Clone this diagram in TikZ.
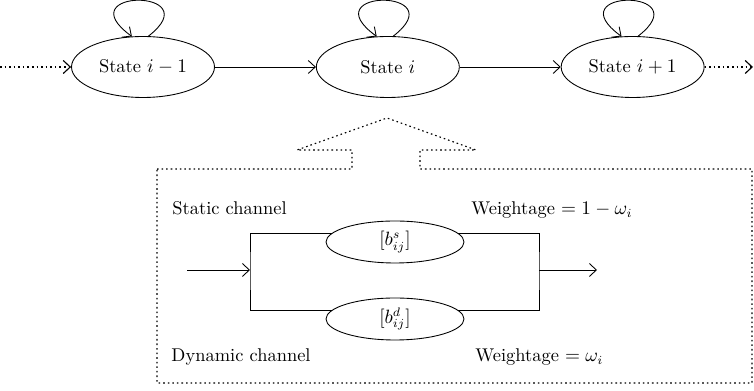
\documentclass[tikz,border=0pt]{standalone}
\usepackage{amsmath}
\usetikzlibrary{arrows.meta,positioning,shapes.geometric}

\begin{document}
\begin{tikzpicture}[x=0.02cm, y=0.02cm, line width=0.5pt,
  >={Straight Barb[length=1.4mm,width=2.6mm]},
  every node/.style={font=\fontsize{10.5pt}{12pt}\selectfont},
  state/.style={draw, ellipse, minimum width=2.86cm, minimum height=1.22cm,
    inner sep=0pt},
  chan/.style={draw, ellipse, minimum width=2.76cm, minimum height=0.84cm,
    inner sep=0pt},
  dots/.style={line width=0.65pt, dash pattern=on 0.9pt off 1.7pt},
  lbl/.style={anchor=base west, inner sep=0pt}
]
\useasboundingbox (0,0) rectangle (754,391);

% chain of states
\node[state] (s1) at (143,324) {State $i-1$};
\node[state, right=2.02cm of s1] (s2) {State $i$};
\node[state, right=2.02cm of s2] (s3) {State $i+1$};
\coordinate (pre) at (0,324);
\coordinate (post) at (753,324);

\draw[->, dots] (pre) -- (s1);
\draw[->] (s1) -- (s2);
\draw[->] (s2) -- (s3);
\draw[->, dots] (s3) -- (post);

\foreach \s in {s1,s2,s3}
  \draw[->] (\s.80) .. controls +(62,48) and +(-66,48) .. (\s.110);

% zoomed view of state i
\draw[dots] (157,222) -- (352,222) -- (352,241) -- (297,241) -- (387,273)
  -- (476,241) -- (420,241) -- (420,222) -- (752,222) -- (752,8)
  -- (157,8) -- cycle;

\node[chan] (bs) at (395,149) {$[b^{s}_{ij}]$};
\node[chan] (bd) at (395,72) {$[b^{d}_{ij}]$};
\coordinate (in) at (187,121);
\coordinate (split) at (250,121);
\coordinate (merge) at (539,121);
\coordinate (out) at (597,121);

\draw (bs.172) -| (split) |- (bd.172);
\draw (bs.8) -| (merge) |- (bd.8);
\draw[->] (in) -- (split);
\draw[->] (merge) -- (out);

% channel labels
\node[lbl] (stat) at (172,176) {Static channel};
\node[lbl] (wst) at (471,176) {Weightage $= 1-\omega_i$};
\node[lbl] (dyn) at (171,29) {Dynamic channel};
\node[lbl] (wdy) at (475,29) {Weightage $= \omega_i$};
\end{tikzpicture}
\end{document}
